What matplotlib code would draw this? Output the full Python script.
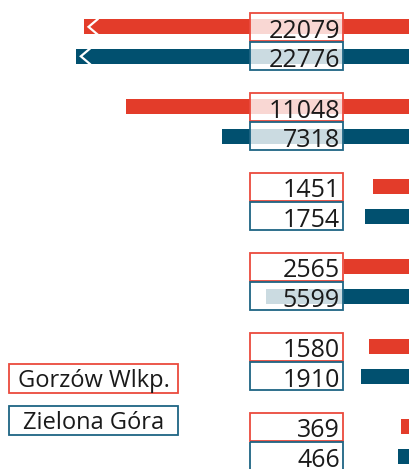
import numpy as np
import matplotlib
matplotlib.use("Agg")
import matplotlib.pyplot as plt
from matplotlib.patches import Rectangle
from matplotlib.transforms import blended_transform_factory

# data
gorzow = [22079, 11048, 1451, 2565, 1580, 369]
zielona = [22776, 7318, 1754, 5599, 1910, 466]
series_names = ["Gorzów Wlkp.", "Zielona Góra"]
# bars longer than the visible range are cut off with a break mark
break_len = {22079: 12700, 22776: 13000}

red = "#E33C2A"
blue = "#01506F"
red_edge = "#EA4A3D"
blue_edge = "#1E6584"

plt.rcParams['font.family'] = ['Open Sans', 'DejaVu Sans']

fig = plt.figure(figsize=(4.10, 4.69), dpi=100)
ax = fig.add_axes([0, 0, 1, 1])
ax.set_xlim(-15950, 0)
ax.set_ylim(5.345, -0.52)
ax.axis('off')

px = 15950 / 410.0   # value units per pixel
off = 0.184
bar_h = 0.19
box_h = 0.355
trans = blended_transform_factory(ax.transAxes, ax.transData)
box_x0, box_x1 = 250 / 410, 343 / 410

groups = np.arange(len(gorzow))
for vals, sign, col, ecol in [(gorzow, -1, red, red_edge),
                              (zielona, 1, blue, blue_edge)]:
    ys = groups + sign * off
    shown = [break_len.get(v, v) for v in vals]
    ax.barh(ys, shown, left=[-s for s in shown], height=bar_h, color=col, zorder=1)
    for v, s, y in zip(vals, shown, ys):
        if v in break_len:
            x0 = -s
            ax.plot([x0 + 14 * px, x0 + 5 * px, x0 + 14 * px],
                    [y - bar_h / 2, y, y + bar_h / 2],
                    color="white", lw=1.6, zorder=2, solid_joinstyle='miter')
        ax.add_patch(Rectangle((box_x0, y - box_h / 2), box_x1 - box_x0, box_h,
                               transform=trans, facecolor='white', alpha=0.8,
                               edgecolor='none', zorder=3))
        ax.add_patch(Rectangle((box_x0, y - box_h / 2), box_x1 - box_x0, box_h,
                               transform=trans, facecolor='none',
                               edgecolor=ecol, lw=1.3, zorder=4))
        ax.text(box_x1 - 3 / 410, y + box_h / 2 - 3.5 / 80, str(v), transform=trans,
                ha='right', va='baseline', fontsize=18, color="#1a1a1a", zorder=5)

# legend boxes
for name, ecol, ytop in [(series_names[0], red_edge, 364), (series_names[1], blue_edge, 406)]:
    y0 = 1 - (ytop + 29) / 469
    ax.add_patch(Rectangle((9 / 410, y0), 169 / 410, 29 / 469, transform=ax.transAxes,
                           facecolor='white', edgecolor=ecol, lw=1.3, zorder=4))
    ax.text(94 / 410, y0 + 6 / 469, name, transform=ax.transAxes,
            ha='center', va='baseline', fontsize=17, color="#1a1a1a", zorder=5)

fig.savefig("out.png", dpi=100)
